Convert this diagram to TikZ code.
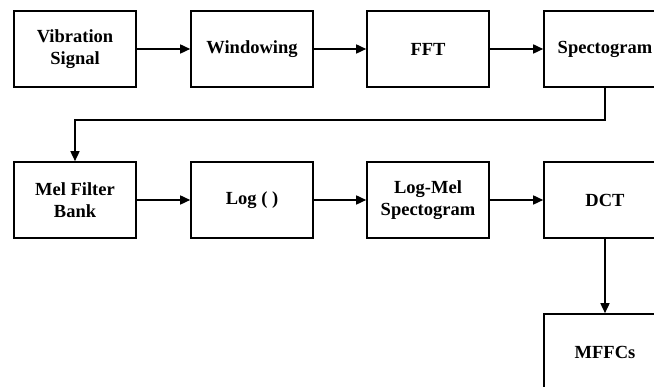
\documentclass[tikz,border=0pt]{standalone}
\usepackage{fontspec}
\setmainfont{Liberation Serif}
\usetikzlibrary{arrows.meta}
\begin{document}
\begin{tikzpicture}[x=1pt,y=1pt,
  blk/.style={draw=black, line width=1.6pt, minimum width=122pt, minimum height=76pt,
    inner sep=0pt, align=center, font=\fontsize{18.5}{22}\selectfont\bfseries},
  conn/.style={line width=1.6pt, -{Triangle[length=10pt,width=9pt]}},
  plain/.style={line width=1.6pt}]
\useasboundingbox (0,0) rectangle (654,387);
\fill[white] (0,0) rectangle (654,387);
\node[blk] (vib) at (75,338) {Vibration\\Signal};
\node[blk] (win) at (252,338) {Windowing};
\node[blk] (fft) at (428,338) {FFT};
\node[blk] (spec) at (605,338) {Spectogram};
\node[blk] (mel) at (75,187) {Mel Filter\\Bank};
\node[blk] (log) at (252,187) {Log ( )};
\node[blk] (lms) at (428,187) {Log-Mel\\Spectogram};
\node[blk] (dct) at (605,187) {DCT};
\node[blk] (mfcc) at (605,35) {MFFCs};
\draw[conn] (vib) -- (win);
\draw[conn] (win) -- (fft);
\draw[conn] (fft) -- (spec);
\coordinate (e1) at (605,267);
\coordinate (e2) at (75,267);
\draw[conn] (spec.south) -- (e1) -- (e2) -- (mel.north);
\draw[conn] (mel) -- (log);
\draw[conn] (log) -- (lms);
\draw[conn] (lms) -- (dct);
\draw[conn] (dct) -- (mfcc);
\end{tikzpicture}
\end{document}
